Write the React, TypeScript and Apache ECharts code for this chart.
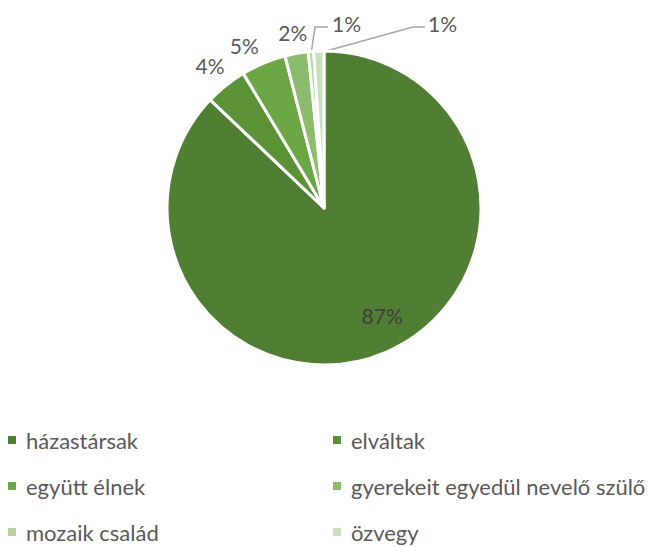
import React, { useEffect, useRef } from "react";
import * as echarts from "echarts";

const categories = [
  "házastársak",
  "elváltak",
  "együtt élnek",
  "gyerekeit egyedül nevelő szülő",
  "mozaik család",
  "özvegy",
];
const values = [87.1, 4.3, 4.6, 2.4, 0.55, 1.05];
const colors = ["#507E32", "#5B9236", "#6BA744", "#8CBC6E", "#B2D49C", "#C8E0BC"];
const leftLegend = ["házastársak", "együtt élnek", "mozaik család"];
const rightLegend = ["elváltak", "gyerekeit egyedül nevelő szülő", "özvegy"];

const CX = 324;
const CY = 208;
const R = 157;
const FONT = "Lato, 'Open Sans', sans-serif";
const TEXT = "#595959";

export default function App() {
  const ref = useRef<HTMLDivElement>(null);
  useEffect(() => {
    if (!ref.current) return;
    const chart = echarts.init(ref.current, undefined, { renderer: "svg" });
    const total = values.reduce((a, b) => a + b, 0);
    const mid = (i: number) => {
      let acc = 0;
      for (let j = 0; j < i; j++) acc += values[j];
      return ((acc + values[i] / 2) / total) * 2 * Math.PI;
    };
    const pt = (a: number, r: number) => [CX + r * Math.sin(a), CY - r * Math.cos(a)];

    const legendBase = {
      orient: "vertical",
      top: 428,
      height: 140,
      padding: 0,
      icon: "rect",
      itemWidth: 8,
      itemHeight: 8,
      itemGap: 22,
      itemStyle: { borderWidth: 0 },
      textStyle: { fontSize: 22, lineHeight: 24, color: TEXT, fontFamily: FONT, padding: [0, 0, 0, 5] },
    };

    const option: any = {
      animation: false,
      backgroundColor: "#ffffff",
      textStyle: { fontFamily: FONT },
      legend: [
        { ...legendBase, left: 8, data: leftLegend },
        { ...legendBase, left: 333, data: rightLegend },
      ],
      series: [
        {
          type: "pie",
          center: [CX, CY],
          radius: R,
          startAngle: 90,
          clockwise: true,
          avoidLabelOverlap: false,
          itemStyle: { borderColor: "#ffffff", borderWidth: 3 },
          label: {
            show: true,
            position: "outside",
            fontSize: 21,
            color: TEXT,
            fontFamily: FONT,
            formatter: (p: any) => Math.round(p.percent) + "%",
          },
          labelLine: { show: false, lineStyle: { color: "#A6A6A6", width: 1.5 } },
          emphasis: { disabled: true },
          data: categories.map((name, i) => ({
            name,
            value: values[i],
            itemStyle: { color: colors[i] },
            labelLine: { show: i >= 4 },
            label: i === 0 ? { color: "#404040" } : {},
          })),
          labelLayout: (p: any) => {
            const i = p.dataIndex;
            const a = mid(i);
            if (i === 0) {
              const [x, y] = pt(a - 0.09, R * 0.78);
              return { x, y, align: "center", verticalAlign: "middle" };
            }
            if (i <= 3) {
              const nudge = i === 2 ? -0.06 : 0;
              const aa = a + nudge;
              const off = 8 + Math.abs(Math.sin(aa)) * 14 + Math.abs(Math.cos(aa)) * 11;
              const [x, y] = pt(aa, R + off);
              return { x, y, align: "center", verticalAlign: "middle" };
            }
            const start = pt(a, R - 2);
            const lineY = CY - 181;
            if (i === 4) {
              return {
                x: CX + 8,
                y: lineY - 4,
                align: "left",
                verticalAlign: "middle",
                labelLinePoints: [start, [CX - 9, lineY], [CX + 4, lineY]],
              };
            }
            return {
              x: CX + 104,
              y: lineY - 4,
              align: "left",
              verticalAlign: "middle",
              labelLinePoints: [start, [CX + 89, lineY], [CX + 101, lineY]],
            };
          },
        },
      ],
    };
    chart.setOption(option);
    return () => chart.dispose();
  }, []);
  return (
    <div
      ref={ref}
      style={{ position: "absolute", left: 0, top: 0, width: 651, height: 547 }}
    />
  );
}
